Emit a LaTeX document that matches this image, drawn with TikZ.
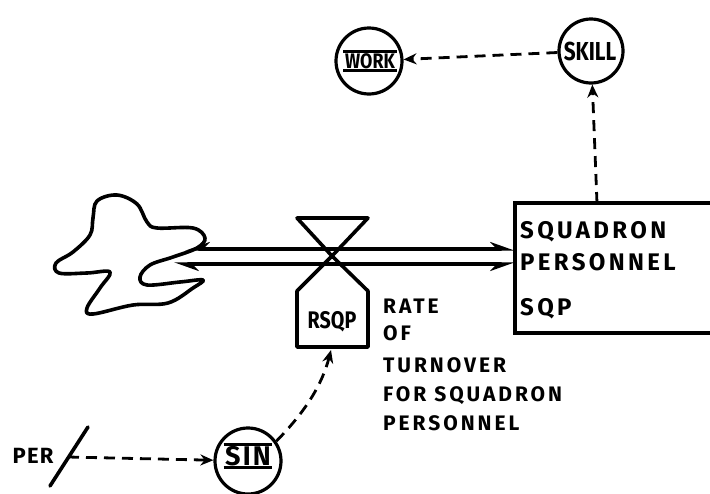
\documentclass[tikz,border=0pt]{standalone}
\usepackage{fontspec}
\setmainfont{Fira Sans}
\usetikzlibrary{arrows.meta,calc}
\begin{document}
\begin{tikzpicture}[x=1pt,y=-1pt,
  ink/.style={line width=3.6pt, black, line cap=round, line join=round},
  dsh/.style={black, line width=2.8pt, dash pattern=on 11pt off 7pt},
  circ/.style={circle, draw, line width=3.2pt, minimum size=64pt, inner sep=0pt},
  big/.style={font=\bfseries\fontsize{24}{24}\selectfont\addfontfeature{LetterSpace=14}, anchor=base west, inner sep=0pt},
  mid/.style={font=\bfseries\fontsize{21}{21}\selectfont\addfontfeature{LetterSpace=14}, anchor=base west, inner sep=0pt},
  lab/.style={inner sep=1.5pt},
  tip/.style={-{Stealth[length=13pt,width=11pt]}},
  ovl/.style={line width=2.6pt}
]
\useasboundingbox (0,0) rectangle (710,493);

% cloud
\draw[ink] plot[smooth cycle, tension=0.6] coordinates {(117,195) (137,204) (147,222) (157,228) (193,228) (205,238) (197,248) (173,257) (150,265) (140,277) (147,285) (180,282) (203,280) (193,288) (168,303) (133,305) (93,314) (87,308) (100,288) (110,272) (87,273) (59,273) (56,263) (73,252) (90,235) (93,218) (97,201)};

% stock box
\node[draw, line width=3.2pt, minimum width=200pt, minimum height=130pt, inner sep=0pt] (sqp) at (615,268) {};
\node[big] (sq1) at (520,238) {SQUADRON};
\node[big] (sq2) at (520,270) {PERSONNEL};
\node[big] (sq3) at (520,315) {SQP};

% pipe
\coordinate (cU) at (185,249);
\coordinate (cL) at (174,264);
\coordinate (bU) at (515,249);
\coordinate (bL) at (515,264);
\draw[ink, {Stealth[harpoon,swap,length=20pt,width=14pt]}-{Stealth[harpoon,length=20pt,width=14pt]}] (cU) -- (bU);
\draw[ink, {Stealth[harpoon,length=20pt,width=14pt]}-{Stealth[harpoon,swap,length=20pt,width=14pt]}] (cL) -- (bL);

% valve and rate
\draw[ink] (297,218) -- (368,218) -- (332,256) -- cycle;
\draw[ink] (332,256) -- (368,291) -- (368,347) -- (297,347) -- (297,291) -- cycle;
\node[lab, font=\bfseries\fontsize{24}{24}\selectfont\addfontfeature{FakeStretch=0.82}] (rsqp) at (332,322) {RSQP};
\coordinate (rsqpb) at (331,350);

\node[mid] (r1) at (383,313) {RATE};
\node[mid] (r2) at (383,340) {OF};
\node[mid] (r3) at (383,372) {TURNOVER};
\node[mid] (r4) at (383,401) {FOR\hspace{8pt}SQUADRON};
\node[mid] (r5) at (383,430) {PERSONNEL};

% auxiliaries
\node[circ, minimum size=66pt] (work) at (369,61) {};
\node[lab, font=\bfseries\fontsize{21}{21}\selectfont\addfontfeature{FakeStretch=0.85}] (worktxt) at (370,61) {WORK};
\draw[ovl] (worktxt.north west) -- (worktxt.north east);
\draw[ovl] (worktxt.south west) -- (worktxt.south east);

\node[circ] (skill) at (591,51) {};
\node[lab, font=\bfseries\fontsize{26}{26}\selectfont\addfontfeature{FakeStretch=0.8}] (skilltxt) at (590,51) {SKILL};

\node[circ, minimum size=66pt] (sin) at (248,461) {};
\node[lab, font=\bfseries\fontsize{27}{27}\selectfont\addfontfeature{LetterSpace=8}] (sintxt) at (248,456) {SIN};
\draw[ovl] (sintxt.north west) -- (sintxt.north east);
\draw[ovl] (sintxt.south west) -- (sintxt.south east);

% source PER
\node[lab, font=\bfseries\fontsize{22}{22}\selectfont\addfontfeature{LetterSpace=6}] (per) at (33,456) {PER};
\coordinate (pa) at (50,486);
\coordinate (pb) at (88,427);
\draw[ink] (pa) -- (pb);
\coordinate (perx) at (68,457);

% information links
\coordinate (sqptop) at (597,203);
\draw[dsh, tip] (skill) -- (work);
\draw[dsh, tip] (sqptop) -- (skill);
\draw[dsh, tip] (perx) -- (sin);
\draw[dsh, tip] (sin.35) .. controls (305,412) and (322,385) .. (rsqpb);
\end{tikzpicture}
\end{document}
